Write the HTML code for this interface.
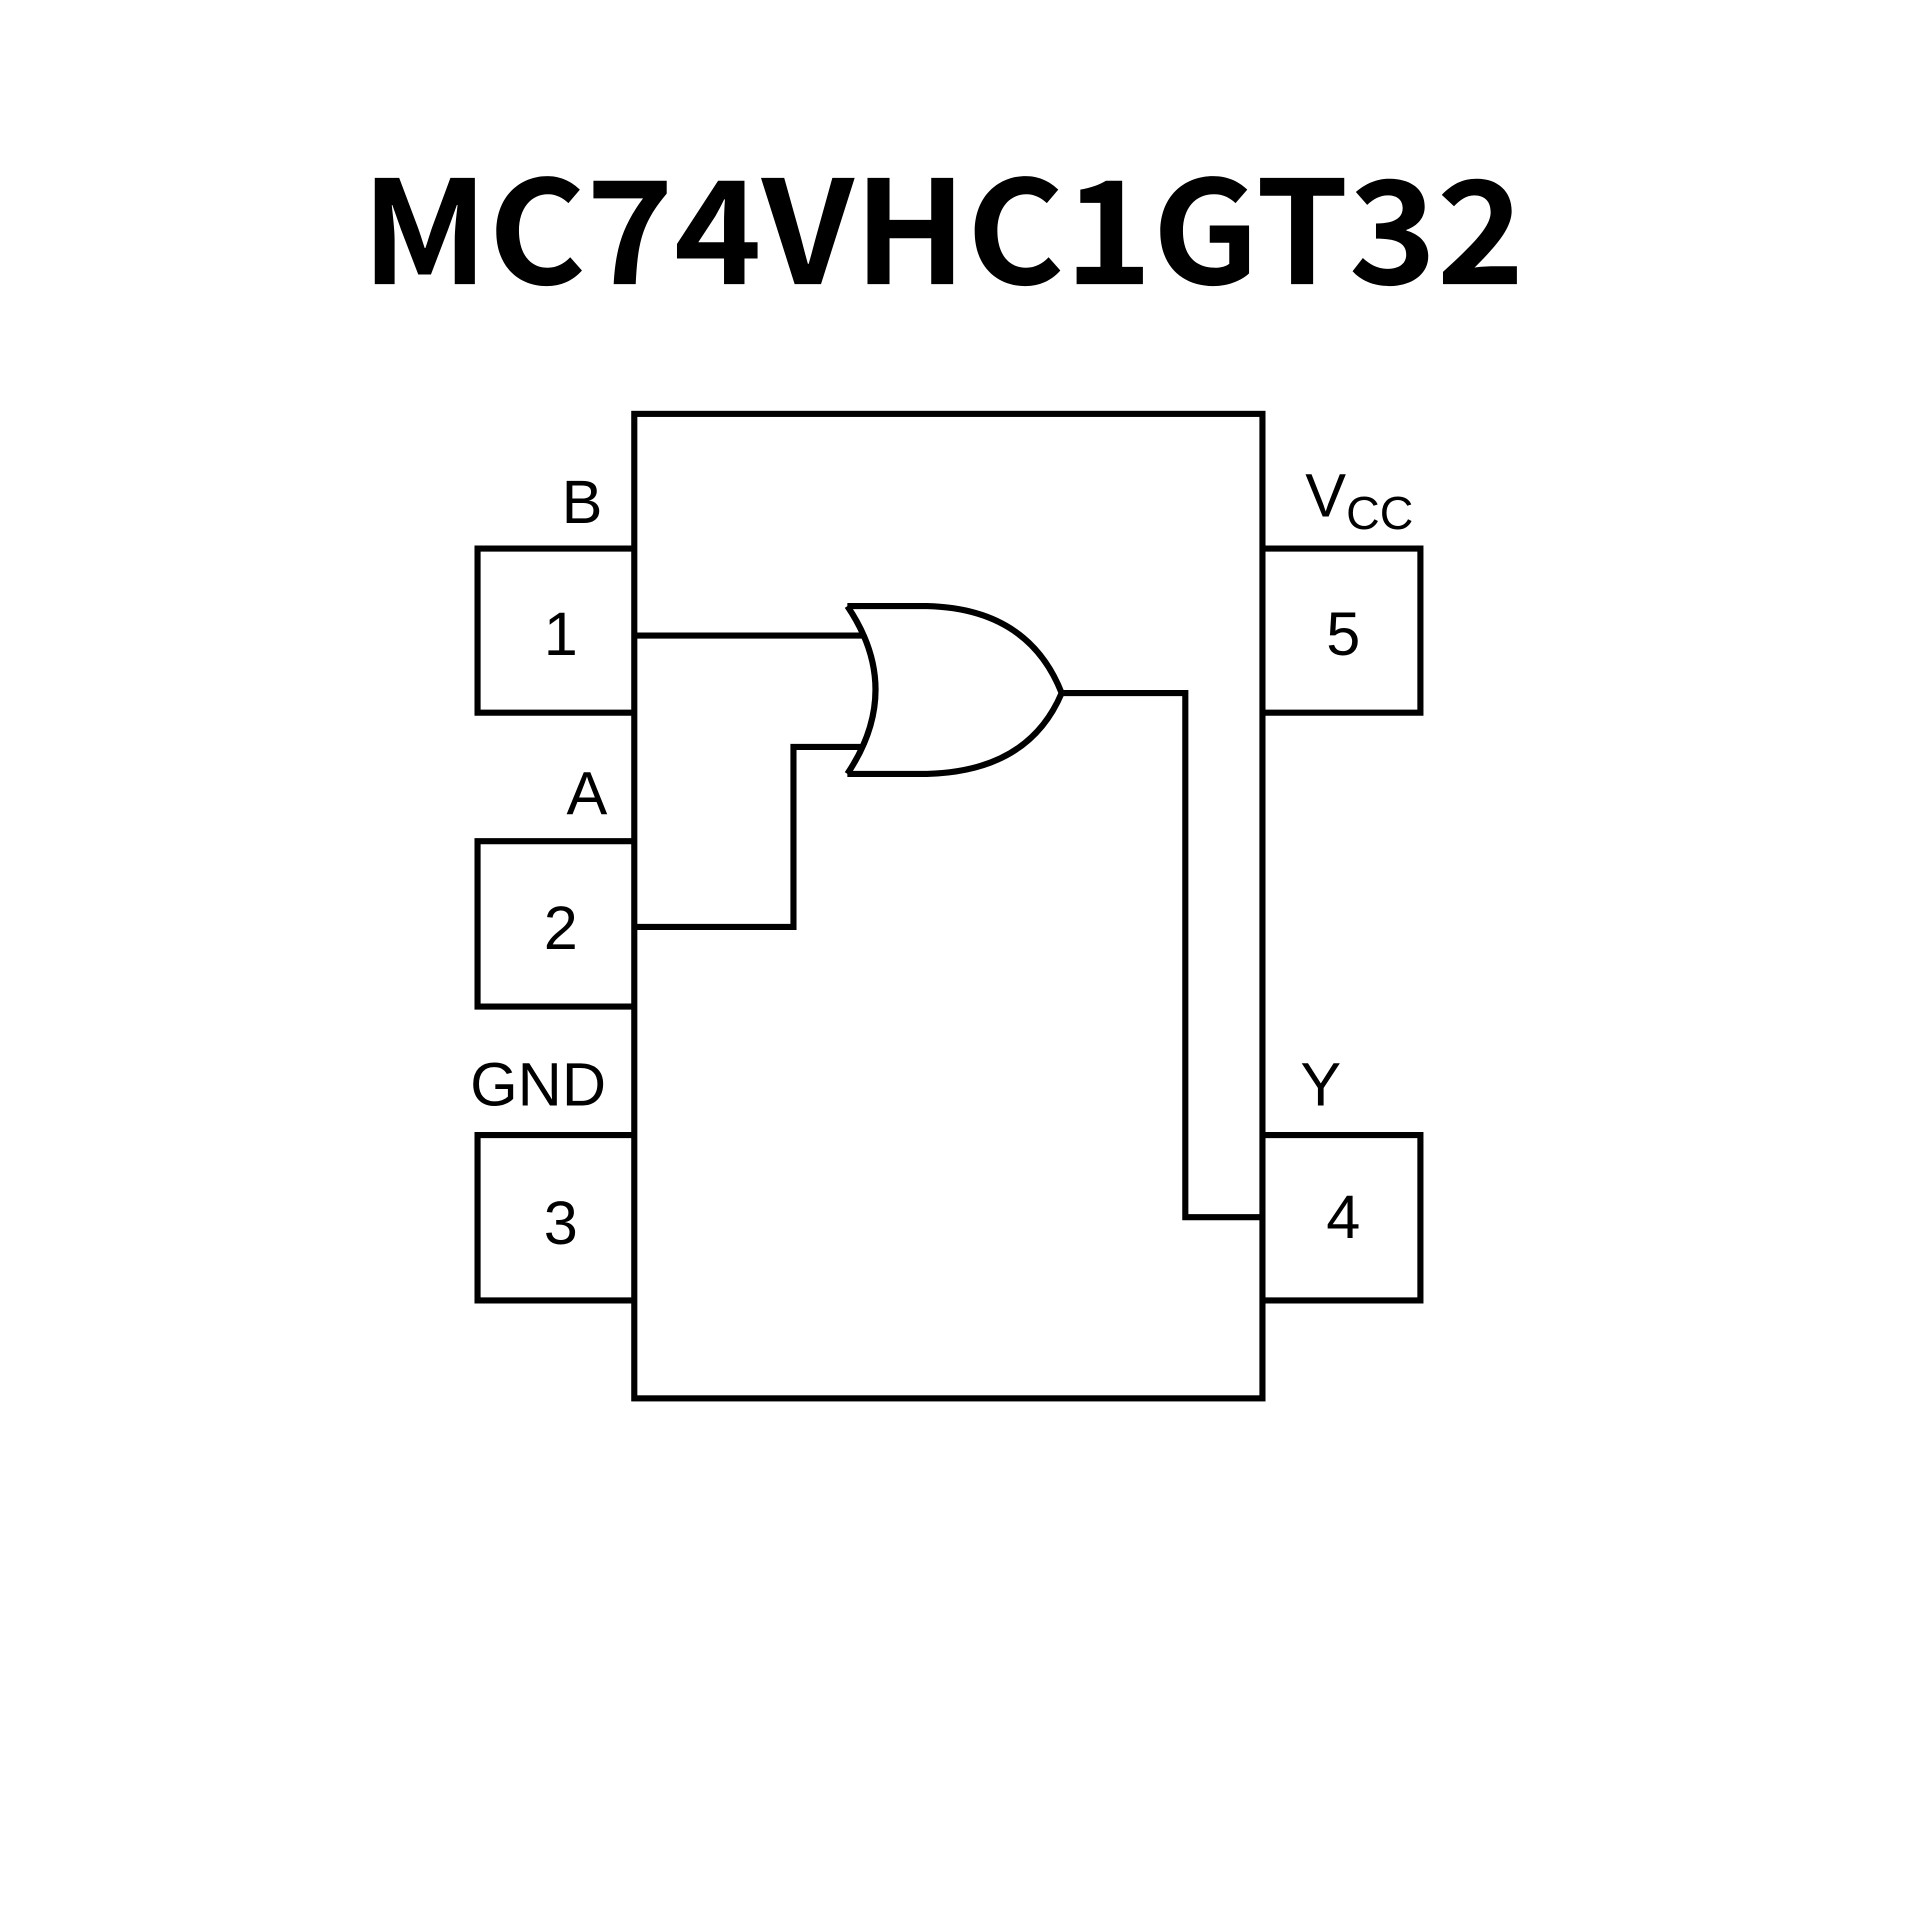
<!DOCTYPE html>
<html><head><style>html,body{margin:0;padding:0;background:#fff}</style></head>
<body>
<svg width="1920" height="1920" viewBox="0 0 1568 1568" xmlns="http://www.w3.org/2000/svg">
<rect width="1568" height="1568" fill="#fff"/>
<text x="770" y="232" font-family="Noto Sans CJK SC, Liberation Sans, sans-serif" font-weight="bold" font-size="117" text-anchor="middle" textLength="950" lengthAdjust="spacingAndGlyphs">MC74VHC1GT32</text>
<g fill="none" stroke="#000" stroke-width="5" stroke-linejoin="miter">
<rect x="518" y="338" width="513" height="804"/>
<polyline points="518,448 390,448 390,582 518,582"/>
<polyline points="518,687 390,687 390,822 518,822"/>
<polyline points="518,927 390,927 390,1062 518,1062"/>
<polyline points="1031,448 1160,448 1160,582 1031,582"/>
<polyline points="1031,927 1160,927 1160,1062 1031,1062"/>
<line x1="518" y1="519" x2="704" y2="519"/>
<polyline points="518,757 648,757 648,610 704,610"/>
<path d="M692,495 Q738,563 692,632"/>
<path d="M692,495 L757,495 Q840,497 867,566 Q840,630 757,632 L692,632"/>
<polyline points="867,566 968,566 968,994 1031,994"/>
</g>
<g font-family="Liberation Sans, sans-serif" font-size="50" fill="#000">
<text x="492" y="427" text-anchor="end">B</text>
<text x="496" y="665" text-anchor="end">A</text>
<text x="495" y="903" text-anchor="end">GND</text>
<text x="1066" y="422">V<tspan font-size="38" dy="10">CC</tspan></text>
<text x="1062" y="903">Y</text>
<text x="458" y="535" text-anchor="middle">1</text>
<text x="458" y="775" text-anchor="middle">2</text>
<text x="458" y="1016" text-anchor="middle">3</text>
<text x="1097" y="535" text-anchor="middle">5</text>
<text x="1097" y="1011" text-anchor="middle">4</text>
</g>
</svg>
</body></html>
